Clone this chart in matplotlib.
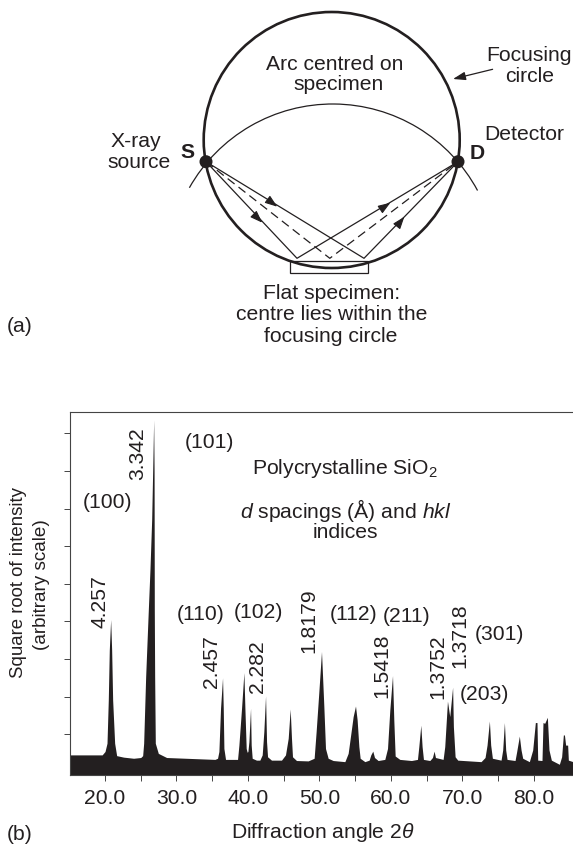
import matplotlib
matplotlib.use('Agg')
import matplotlib.pyplot as plt
from matplotlib.patches import Arc, Rectangle, Circle

plt.rcParams['font.family'] = ['Liberation Sans', 'DejaVu Sans']
plt.rcParams['mathtext.fontset'] = 'custom'
plt.rcParams['mathtext.rm'] = 'Liberation Sans'
plt.rcParams['mathtext.it'] = 'Liberation Sans:italic'
plt.rcParams['mathtext.bf'] = 'Liberation Sans:bold'

INK = '#231f20'
FS = 15.2

# diffraction pattern: 2theta, sqrt(I) in tick units
two_theta = [
    15.1, 19.6, 20.0, 20.28, 20.46, 20.6, 20.79, 20.93, 21.07, 21.35, 21.63, 22.6, 24.0, 25.0,
    25.27, 25.41, 25.69, 26.06, 26.29, 26.53, 26.67, 26.81, 26.87, 26.9, 26.95, 27.04, 27.46, 28.62,
    35.39, 35.75, 35.94, 36.17, 36.45, 36.55, 36.64, 36.87, 38.4, 38.55, 38.74, 39.11, 39.44, 39.58,
    39.76, 39.9, 40.0, 40.14, 40.37, 40.46, 40.6, 41.2, 41.67, 42.0, 42.23, 42.47, 42.61, 42.75,
    43.3, 44.7, 45.26, 45.64, 45.92, 46.1, 46.24, 46.8, 48.43, 49.27, 49.55, 49.93, 50.3, 50.62,
    50.86, 51.23, 51.93, 53.57, 54.03, 54.41, 54.73, 55.06, 55.29, 55.53, 55.71, 56.37, 56.97, 57.2,
    57.48, 57.72, 58.23, 59.16, 59.54, 59.86, 60.24, 60.42, 60.61, 61.26, 62.89, 63.73, 63.92, 64.2,
    64.38, 64.57, 65.46, 65.83, 66.06, 66.25, 67.32, 67.55, 67.93, 68.25, 68.65, 68.76, 69.0, 69.37,
    72.63, 73.19, 73.47, 73.8, 73.98, 74.22, 75.43, 75.66, 75.9, 76.08, 76.27, 77.39, 77.62, 77.99,
    78.23, 78.46, 79.39, 79.86, 80.23, 80.46, 80.56, 81.16, 81.3, 81.54, 81.91, 82.14, 82.47, 83.59,
    83.91, 84.15, 84.3, 84.47, 84.75, 84.85, 85.5,
]
sqrt_intensity = [
    0.45, 0.45, 0.54, 0.76, 1.91, 3.24, 4.05, 3.24, 1.91, 0.76, 0.43, 0.39, 0.36, 0.38,
    0.43, 0.76, 2.53, 4.3, 5.37, 6.7, 8.0, 9.36, 8.0, 4.3, 2.53, 0.76, 0.49, 0.38,
    0.33, 0.36, 0.54, 1.69, 2.5, 1.69, 0.62, 0.33, 0.33, 0.33, 0.71, 1.69, 2.64, 1.69,
    0.62, 0.52, 0.54, 0.80, 1.69, 0.71, 0.36, 0.31, 0.31, 0.45, 1.07, 2.02, 0.80, 0.40,
    0.31, 0.31, 0.45, 0.89, 1.67, 0.89, 0.40, 0.30, 0.29, 0.36, 1.07, 2.13, 3.2, 1.78,
    0.62, 0.36, 0.30, 0.27, 0.49, 1.02, 1.47, 1.75, 1.38, 0.67, 0.36, 0.27, 0.31, 0.45,
    0.55, 0.38, 0.30, 0.33, 0.62, 1.64, 2.56, 1.38, 0.42, 0.33, 0.30, 0.33, 0.67, 1.24,
    0.67, 0.33, 0.30, 0.38, 0.55, 0.38, 0.33, 0.67, 1.88, 1.47, 2.25, 1.2, 0.40, 0.31,
    0.27, 0.38, 0.71, 1.35, 0.71, 0.36, 0.31, 0.58, 1.31, 0.58, 0.33, 0.30, 0.54, 0.95,
    0.58, 0.36, 0.27, 0.58, 1.31, 1.31, 0.31, 0.30, 1.31, 1.29, 1.45, 0.58, 0.31, 0.20,
    0.40, 0.98, 0.98, 0.71, 0.71, 0.31, 0.27,
]
y_ticks = [1, 2, 3, 4, 5, 6, 7, 8, 9]
x_major = [20, 30, 40, 50, 60, 70, 80]
x_minor = [25, 35, 45, 55, 65, 75]

# labels over the pattern, in figure pixels
d_labels = ['3.342', '4.257', '2.457', '2.282', '1.8179', '1.5418', '1.3752', '1.3718']
d_x = [137.7, 100, 211.7, 257, 309, 382.3, 438.3, 460]
d_y = [454, 601.5, 662, 667, 621, 666, 667, 636]
hkl_labels = ['(100)', '(101)', '(110)', '(102)', '(112)', '(211)', '(301)', '(203)']
hkl_x = [108, 209, 200.7, 258, 354, 406.7, 499, 484]
hkl_y = [502.7, 443, 615, 613, 614, 617, 634, 694]

# panel (a) geometry, in figure pixels
source = (206, 161.7)
detector = (458, 161.7)
bounce_x = [297, 364]
bounce_dashed_x = 329.8
bounce_y = 258.3
arrow_tips = [(277.3, 206.7), (262.3, 222.7), (390.4, 202.7), (404.4, 216.7)]
arrow_from = [(269.3, 200.7), (254, 214.5), (380.5, 209.3), (397.8, 225)]

fig = plt.figure(figsize=(5.73, 8.44), dpi=100)

ax = fig.add_axes([70 / 573, 1 - 775 / 844, 503 / 573, 363 / 844])
ax.fill_between(two_theta, -0.085, sqrt_intensity, color=INK, lw=0)
ax.set_xlim(15.1, 85.5)
ax.set_ylim(-0.085, 9.57)
ax.set_xticks(x_major)
ax.set_xticklabels([f'{v:.1f}' for v in x_major], fontsize=FS, color=INK)
ax.set_xticks(x_minor, minor=True)
ax.set_yticks(y_ticks)
ax.set_yticklabels([])
ax.tick_params(axis='both', which='both', length=4.6, width=0.7, color='#444444')
ax.tick_params(axis='x', which='major', pad=5.5)
ax.spines['right'].set_visible(False)
for s in ['left', 'top', 'bottom']:
    ax.spines[s].set_linewidth(0.8)
    ax.spines[s].set_color('#444444')

# overlay in figure pixels for the drawing and the free text
ov = fig.add_axes([0, 0, 1, 1], facecolor='none')
ov.set_xlim(0, 573)
ov.set_ylim(844, 0)
ov.axis('off')


def label(x, y, s, **kw):
    kw.setdefault('fontsize', FS)
    ov.text(x, y, s, ha='center', va='center', color=INK, **kw)


ov.add_patch(Circle((331.7, 140), 128, fill=False, ec=INK, lw=1.9))
ov.add_patch(Arc((332.7, 268.5), 329, 329, theta1=209.4, theta2=331.7, ec=INK, lw=0.9))
ov.add_patch(Rectangle((290.4, 261), 77.2, 12.3, fill=False, ec=INK, lw=0.9))
for c in [source, detector]:
    ov.add_patch(Circle(c, 6.5, fc=INK, ec='none', zorder=5))

for bx in bounce_x:
    ov.plot([source[0], bx, detector[0]], [source[1], bounce_y, detector[1]], color=INK, lw=0.9)
ov.plot([source[0], bounce_dashed_x, detector[0]], [source[1], bounce_y, detector[1]],
        color=INK, lw=0.9, dashes=(7, 4))
for tip, tail in zip(arrow_tips, arrow_from):
    ov.annotate('', xy=tip, xytext=tail,
                arrowprops=dict(arrowstyle='-|>,head_length=0.75,head_width=0.27', color=INK, lw=0.8,
                                shrinkA=0, shrinkB=0))
ov.annotate('', xy=(453, 79), xytext=(492.6, 69.3),
            arrowprops=dict(arrowstyle='-|>,head_length=0.75,head_width=0.25', color=INK, lw=0.9,
                            shrinkA=0, shrinkB=0))

label(335, 64.3, 'Arc centred on')
label(338.6, 85, 'specimen')
label(529, 55.7, 'Focusing')
label(530, 76.7, 'circle')
label(524, 134, 'Detector')
label(136, 141.3, 'X-ray')
label(139, 162.3, 'source')
label(187.5, 152.7, 'S', fontweight='bold')
label(476.8, 153.3, 'D', fontweight='bold')
label(332, 293.3, 'Flat specimen:')
label(331.6, 315, 'centre lies within the')
label(331, 336, 'focusing circle')
label(20, 327, '(a)')
label(20, 835, '(b)')

for s, x, y in zip(d_labels, d_x, d_y):
    label(x, y, s, rotation=90)
for s, x, y in zip(hkl_labels, hkl_x, hkl_y):
    label(x, y, s)

label(345, 468, r'Polycrystalline SiO$_2$')
label(346, 510, r'$\mathit{d}$ spacings (Å) and $\mathit{hkl}$')
label(345, 533, 'indices')
label(19, 583, 'Square root of intensity', rotation=90, fontsize=13.4)
label(42, 585, '(arbitrary scale)', rotation=90, fontsize=13.6)
label(323, 832, r'Diffraction angle 2$\mathit{\theta}$')

fig.savefig('out.png', dpi=100)
